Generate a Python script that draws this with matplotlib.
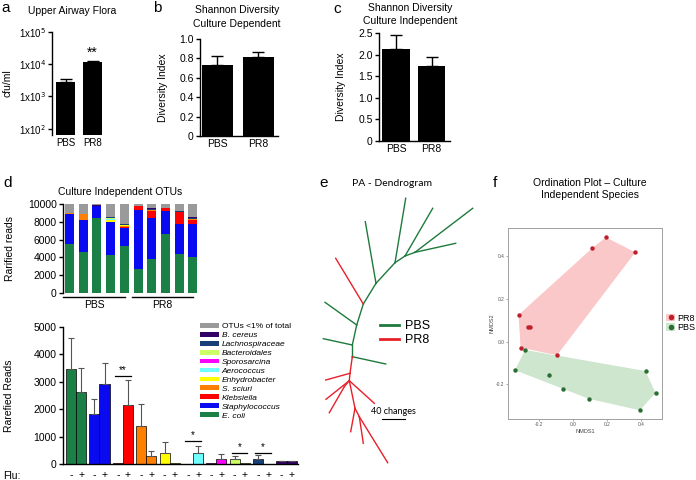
import numpy as np
import matplotlib
matplotlib.use("Agg")
import matplotlib.pyplot as plt
from matplotlib.patches import Patch, Polygon
from matplotlib.lines import Line2D

plt.rcParams['font.family'] = ['Liberation Sans', 'DejaVu Sans']
plt.rcParams['axes.linewidth'] = 1.0

W, H = 696, 480

# ---------------- data ----------------
groups = ["PBS", "PR8"]

# a: upper airway flora (cfu/ml)
cfu_mean = [2800, 11500]
cfu_err = [650, 1500]

# b: shannon diversity, culture dependent
div_dep_mean = [0.73, 0.81]
div_dep_err = [0.09, 0.06]

# c: shannon diversity, culture independent
div_ind_mean = [2.12, 1.74]
div_ind_err = [0.33, 0.21]

# d: taxa
taxa = ["E. coli", "Staphylococcus", "Klebsiella", "S. sciuri", "Enhydrobacter",
        "Aerococcus", "Sporosarcina", "Bacteroidales", "Lachnospiraceae", "B. cereus"]
taxa_colors = ["#1a8045", "#0a0af0", "#ff0000", "#ff8000", "#ffff00",
               "#70ffff", "#ff00ff", "#ccff66", "#183f78", "#330066"]
other_label = "OTUs <1% of total"
other_color = "#9a9a9a"

# d top: rarified reads per sample (5 PBS, 5 PR8)
reads = {
    "E. coli":         [5500, 4650, 8450, 4250, 5300, 2700, 3800, 6600, 4400, 4000],
    "Staphylococcus":  [3330, 3550, 1300, 3700, 2050, 6600, 4580, 2600, 3350, 3800],
    "Klebsiella":      [100, 0, 0, 0, 100, 450, 850, 300, 1300, 350],
    "S. sciuri":       [50, 650, 0, 0, 80, 50, 120, 0, 60, 200],
    "Enhydrobacter":   [0, 0, 0, 250, 80, 0, 0, 0, 0, 0],
    "Aerococcus":      [0, 0, 0, 80, 0, 0, 0, 0, 0, 0],
    "Sporosarcina":    [0, 0, 50, 0, 0, 0, 0, 0, 0, 0],
    "Bacteroidales":   [0, 0, 0, 120, 60, 0, 0, 0, 0, 0],
    "Lachnospiraceae": [0, 80, 0, 100, 60, 0, 100, 80, 50, 100],
    "B. cereus":       [0, 0, 50, 0, 0, 0, 60, 0, 0, 60],
}
reads_other = [1020, 1070, 150, 1500, 2270, 200, 490, 420, 840, 1490]

# d bottom: mean rarefied reads, flu - / +
flu_neg_mean = [3450, 1820, 30, 1370, 400, 0, 30, 190, 190, 100]
flu_neg_err = [1150, 540, 0, 810, 400, 0, 0, 110, 140, 20]
flu_pos_mean = [2640, 2930, 2150, 310, 30, 400, 190, 20, 0, 100]
flu_pos_err = [870, 760, 910, 150, 0, 270, 170, 0, 0, 20]
# significance: (taxon index, label, bar height)
signif = [(2, "**", 3220), (5, "*", 840), (7, "*", 400), (8, "*", 400)]

# e: dendrogram layout (node positions in layout units)
tree_nodes = {
    "n0": (62.3, 176.7), "n1": (62.3, 165.0), "n2": (66.7, 145.0), "n3": (73.3, 124.0),
    "n4": (86.0, 103.3), "n5": (105.0, 82.7), "n6": (115.0, 76.0), "n7": (125.0, 72.3),
    "r1": (60.0, 193.3), "r2": (59.3, 200.7), "r2b": (54.3, 206.7), "r4": (65.0, 228.3),
    "r5": (69.3, 236.7),
    "pbs1": (95.7, 184.0), "pbs2": (33.3, 158.7), "pbs3": (35.0, 122.3), "pbs4": (75.3, 41.7),
    "pbs5": (115.7, 18.3), "pbs6": (142.7, 28.3), "pbs7": (182.7, 28.3), "pbs8": (165.7, 63.3),
    "pr8a": (45.7, 78.3), "pr8b": (35.7, 200.0), "pr8c": (84.3, 223.3), "pr8d": (36.0, 219.3),
    "pr8e": (39.3, 232.7), "pr8f": (60.7, 251.7), "pr8g": (73.3, 263.3), "pr8h": (97.7, 282.7),
}
tree_edges_pbs = [("n0", "n1"), ("n1", "n2"), ("n2", "n3"), ("n3", "n4"), ("n4", "n5"),
                  ("n5", "n6"), ("n6", "n7"), ("n0", "pbs1"), ("n1", "pbs2"), ("n2", "pbs3"),
                  ("n4", "pbs4"), ("n5", "pbs5"), ("n6", "pbs6"), ("n7", "pbs7"), ("n7", "pbs8")]
tree_edges_pr8 = [("n3", "pr8a"), ("n0", "r1"), ("r1", "r2"), ("r2", "r2b"), ("r2", "r4"),
                  ("r4", "r5"), ("r1", "pr8b"), ("r2", "pr8c"), ("r2", "pr8d"), ("r2b", "pr8e"),
                  ("r4", "pr8f"), ("r5", "pr8g"), ("r5", "pr8h")]

# f: NMDS ordination
pr8_nmds1 = [0.194, 0.114, 0.367, -0.320, -0.265, -0.255, -0.308, -0.094]
pr8_nmds2 = [0.489, 0.439, 0.419, 0.125, 0.070, 0.070, -0.028, -0.064]
pbs_nmds1 = [-0.282, -0.341, -0.139, -0.061, 0.096, 0.427, 0.486, 0.394]
pbs_nmds2 = [-0.039, -0.134, -0.156, -0.220, -0.269, -0.138, -0.241, -0.322]

GREEN = "#1e7a3c"
RED = "#e8202a"

fig = plt.figure(figsize=(W / 100, H / 100), dpi=100)


def px_axes(left, top, right, bottom):
    return fig.add_axes([left / W, 1 - bottom / H, (right - left) / W, (bottom - top) / H])


def ftext(x, y, s, **kw):
    return fig.text(x / W, 1 - y / H, s, **kw)


def prism_style(ax, fs=7.5):
    for s in ("top", "right"):
        ax.spines[s].set_visible(False)
    ax.tick_params(axis="y", direction="out", length=3, width=1, labelsize=fs, pad=1.5)
    ax.tick_params(axis="x", length=0, labelsize=fs, pad=2)


def hull(xs, ys):
    pts = sorted(zip(xs, ys))
    def cross(o, a, b):
        return (a[0] - o[0]) * (b[1] - o[1]) - (a[1] - o[1]) * (b[0] - o[0])
    lower, upper = [], []
    for p in pts:
        while len(lower) >= 2 and cross(lower[-2], lower[-1], p) <= 0:
            lower.pop()
        lower.append(p)
    for p in reversed(pts):
        while len(upper) >= 2 and cross(upper[-2], upper[-1], p) <= 0:
            upper.pop()
        upper.append(p)
    return lower[:-1] + upper[:-1]


# ---------------- panel a ----------------
ax = px_axes(52, 32, 106, 135)
ymin = 64
x = np.arange(2)
ax.set_yscale("log")
ax.bar(x, [v - ymin for v in cfu_mean], bottom=ymin, width=0.72, color="black",
       yerr=[[0, 0], cfu_err], capsize=4, error_kw=dict(lw=1, capthick=1))
ax.set_ylim(ymin, 1e5)
ax.set_xlim(-0.5, 1.5)
ax.set_yticks([1e2, 1e3, 1e4, 1e5])
ax.set_yticklabels([r"1x10$^{2}$", r"1x10$^{3}$", r"1x10$^{4}$", r"1x10$^{5}$"])
ax.yaxis.set_minor_locator(matplotlib.ticker.NullLocator())
ax.set_xticks(x)
ax.set_xticklabels(groups)
prism_style(ax, 7)
ax.spines["bottom"].set_visible(False)
ax.set_ylabel("cfu/ml", fontsize=7.5, labelpad=4)
ax.text(1, cfu_mean[1] + cfu_err[1] * 1.6, "**", ha="center", va="bottom", fontsize=10)
ftext(72, 11, "Upper Airway Flora", ha="center", va="center", fontsize=7.5)
ftext(1, 8, "a", ha="left", va="center", fontsize=11)

# ---------------- panel b ----------------
ax = px_axes(200, 39, 278, 136)
ax.bar(x, div_dep_mean, width=0.76, color="black",
       yerr=[[0, 0], div_dep_err], capsize=4, error_kw=dict(lw=1, capthick=1))
ax.set_ylim(0, 1.0)
ax.set_xlim(-0.42, 1.48)
ax.set_yticks([0, 0.2, 0.4, 0.6, 0.8, 1.0])
ax.set_yticklabels(["0", "0.2", "0.4", "0.6", "0.8", "1.0"])
ax.set_xticks(x)
ax.set_xticklabels(groups)
prism_style(ax)
ax.set_ylabel("Diversity Index", fontsize=7.5, labelpad=8)
ftext(237, 10, "Shannon Diversity", ha="center", va="center", fontsize=7.5)
ftext(237, 24, "Culture Dependent", ha="center", va="center", fontsize=7.5)
ftext(153, 8, "b", ha="left", va="center", fontsize=11)

# ---------------- panel c ----------------
ax = px_axes(379, 33, 450, 141)
ax.bar(x, div_ind_mean, width=0.78, color="black",
       yerr=[[0, 0], div_ind_err], capsize=4, error_kw=dict(lw=1, capthick=1))
ax.set_ylim(0, 2.5)
ax.set_xlim(-0.48, 1.52)
ax.set_yticks([0, 0.5, 1.0, 1.5, 2.0, 2.5])
ax.set_yticklabels(["0", "0.5", "1.0", "1.5", "2.0", "2.5"])
ax.set_xticks(x)
ax.set_xticklabels(groups)
prism_style(ax)
ax.set_ylabel("Diversity Index", fontsize=7.5, labelpad=9)
ftext(410, 8, "Shannon Diversity", ha="center", va="center", fontsize=7.5)
ftext(410, 21, "Culture Independent", ha="center", va="center", fontsize=7.5)
ftext(333, 9, "c", ha="left", va="center", fontsize=11)

# ---------------- panel d (top) ----------------
ax = px_axes(63, 204, 200, 293)
xs = np.arange(10)
bottom = np.zeros(10)
for name, col in zip(taxa, taxa_colors):
    vals = np.array(reads[name])
    ax.bar(xs, vals, bottom=bottom, width=0.66, color=col, linewidth=0)
    bottom += vals
ax.bar(xs, reads_other, bottom=bottom, width=0.66, color=other_color, linewidth=0)
ax.set_ylim(0, 10000)
ax.set_xlim(-0.48, 9.52)
ax.set_yticks([0, 2000, 4000, 6000, 8000, 10000])
prism_style(ax, 7.5)
ax.spines["bottom"].set_visible(False)
ax.set_xticks([])
ax.set_ylabel("Rarified reads", fontsize=7.5, labelpad=9)
ax.plot([-0.45, 4.05], [-450, -450], color="black", lw=1, clip_on=False)
ax.plot([4.55, 9.0], [-450, -450], color="black", lw=1, clip_on=False)
ax.text(1.8, -800, groups[0], ha="center", va="top", fontsize=7.5)
ax.text(6.8, -800, groups[1], ha="center", va="top", fontsize=7.5)
ftext(120, 192, "Culture Independent OTUs", ha="center", va="center", fontsize=7.5)
ftext(3, 183, "d", ha="left", va="center", fontsize=11)

# ---------------- panel d (bottom) ----------------
ax = px_axes(63, 327, 298, 464)
off = 0.215
bw = 0.43
for i, col in enumerate(taxa_colors):
    ax.bar(i - off, flu_neg_mean[i], width=bw, color=col, edgecolor="black", linewidth=0.5,
           yerr=[[0], [flu_neg_err[i]]] if flu_neg_err[i] > 0 else None,
           capsize=2.5, error_kw=dict(lw=0.8, capthick=0.8, ecolor="#555555"))
    ax.bar(i + off, flu_pos_mean[i], width=bw, color=col, edgecolor="black", linewidth=0.5,
           yerr=[[0], [flu_pos_err[i]]] if flu_pos_err[i] > 0 else None,
           capsize=2.5, error_kw=dict(lw=0.8, capthick=0.8, ecolor="#555555"))
ax.set_ylim(0, 5000)
ax.set_xlim(-0.56, 9.49)
ax.set_yticks([0, 1000, 2000, 3000, 4000, 5000])
prism_style(ax, 7.5)
ax.set_xticks([])
ax.set_ylabel("Rarefied Reads", fontsize=7.5, labelpad=14)
for i in range(10):
    ax.text(i - off, -230, "-", ha="center", va="top", fontsize=7.5)
    ax.text(i + off, -230, "+", ha="center", va="top", fontsize=7.5)
ftext(3, 476, "Flu:", ha="left", va="center", fontsize=7.5)
for i, lab, h in signif:
    ax.plot([i - 0.33, i + 0.33], [h, h], color="black", lw=0.9)
    ax.text(i, h + 20, lab, ha="center", va="bottom", fontsize=7)

handles = [Patch(facecolor=other_color, edgecolor="none")]
labels = [other_label]
for name, col in zip(taxa[::-1], taxa_colors[::-1]):
    handles.append(Patch(facecolor=col, edgecolor="none"))
    labels.append(name)
leg = ax.legend(handles, labels, loc="upper left", bbox_to_anchor=(200 / W, 1 - 323 / H),
                bbox_transform=fig.transFigure, frameon=False, fontsize=6.0,
                handlelength=2.3, handleheight=0.5, labelspacing=0.19, handletextpad=0.3,
                borderpad=0, borderaxespad=0)
for t in leg.get_texts()[1:]:
    t.set_style("italic")

# ---------------- panel e ----------------
ax = px_axes(290, 180, 490, 480)
ax.set_xlim(0, 200)
ax.set_ylim(300, 0)
ax.axis("off")
for edges, col in ((tree_edges_pbs, GREEN), (tree_edges_pr8, RED)):
    for a, b in edges:
        (x0, y0), (x1, y1) = tree_nodes[a], tree_nodes[b]
        ax.plot([x0, x1], [y0, y1], color=col, lw=1)
ax.legend([Line2D([], [], color=GREEN, lw=2), Line2D([], [], color=RED, lw=2)], groups,
          loc="center left", bbox_to_anchor=(380 / W, 1 - 333 / H), bbox_transform=fig.transFigure,
          frameon=False, fontsize=9, handlelength=1.5, handletextpad=0.5, labelspacing=0.15,
          borderpad=0, borderaxespad=0)
ax.plot([92, 115], [239, 239], color="black", lw=0.8)
ax.text(103, 236, "40 changes", ha="center", va="bottom", fontsize=6.5, family="Lato")
ftext(392, 184, "PA - Dendrogram", ha="center", va="center", fontsize=7.5, family="Lato")
ftext(319, 183, "e", ha="left", va="center", fontsize=11)

# ---------------- panel f ----------------
ax = px_axes(508, 228, 662, 419)
for xs_, ys_, fill in ((pr8_nmds1, pr8_nmds2, "#fac8c8"), (pbs_nmds1, pbs_nmds2, "#cde6cd")):
    ax.add_patch(Polygon(hull(xs_, ys_), closed=True, facecolor=fill, edgecolor="none"))
ax.plot(pr8_nmds1, pr8_nmds2, "o", color="#c0202c", ms=3.2, mec="none")
ax.plot(pbs_nmds1, pbs_nmds2, "o", color="#2b6e34", ms=3.2, mec="none")
ax.set_xlim(-0.382, 0.524)
ax.set_ylim(-0.363, 0.533)
for s in ax.spines.values():
    s.set_color("#a0a0a0")
    s.set_linewidth(0.7)
ax.set_xticks([-0.2, 0.0, 0.2, 0.4])
ax.set_xticklabels(["-0.2", "0.0", "0.2", "0.4"])
ax.set_yticks([-0.2, 0.0, 0.2, 0.4])
ax.set_yticklabels(["-0.2", "0.0", "0.2", "0.4"])
ax.tick_params(length=1.5, width=0.5, color="#888888", labelsize=3.5, labelcolor="#555555", pad=1)
ax.set_xlabel("NMDS1", fontsize=4, color="#444444", labelpad=1)
ax.set_ylabel("NMDS2", fontsize=4, color="#444444", labelpad=1)
lh = [(Patch(facecolor="#fac8c8", edgecolor="none"), Line2D([], [], marker="o", ls="", color="#c0202c", ms=3)),
      (Patch(facecolor="#cde6cd", edgecolor="none"), Line2D([], [], marker="o", ls="", color="#2b6e34", ms=3))]
ax.legend(lh, ["PR8", "PBS"], loc="center left", bbox_to_anchor=(666 / W, 1 - 323 / H),
          bbox_transform=fig.transFigure, frameon=False, fontsize=6.5, handlelength=1.0,
          handleheight=0.9, handletextpad=0.2, labelspacing=0.05, borderpad=0, borderaxespad=0)
ftext(590, 183, "Ordination Plot \u2013 Culture", ha="center", va="center", fontsize=7.5)
ftext(590, 195, "Independent Species", ha="center", va="center", fontsize=7.5)
ftext(493, 183, "f", ha="left", va="center", fontsize=11)

fig.savefig("out.png", dpi=100)
